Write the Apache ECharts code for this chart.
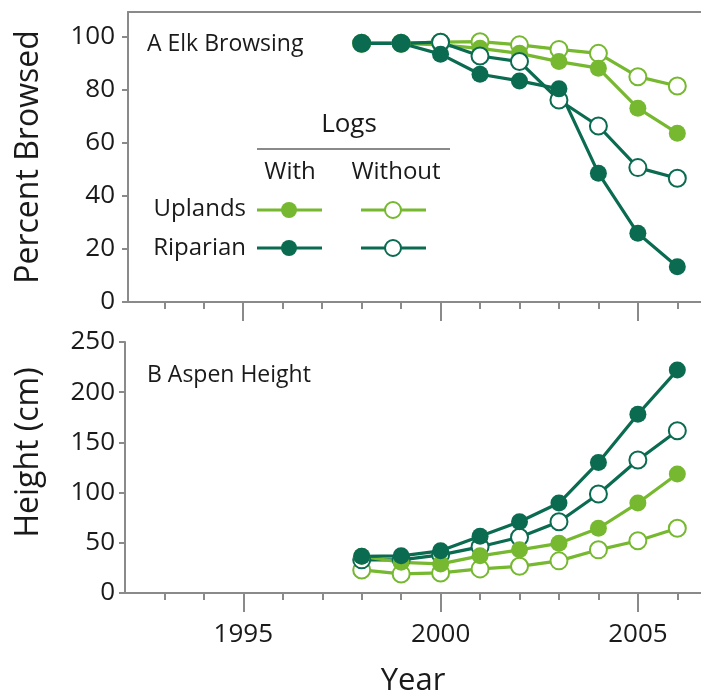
<!DOCTYPE html>
<html><head><meta charset="utf-8">
<script src="https://cdn.jsdelivr.net/npm/echarts@6/dist/echarts.min.js"></script>
<style>html,body{margin:0;padding:0;background:#fff}#c{width:701px;height:698px}</style>
</head><body><div id="c"></div>
<script>
const years = [1998,1999,2000,2001,2002,2003,2004,2005,2006];
const browseUplandsWith     = [97.6,97.6,97,95.7,93.8,90.7,88.2,73.1,63.7];
const browseUplandsWithout  = [97.6,97.6,98,98.2,97,95.3,93.8,85,81.5];
const browseRiparianWithout = [97.6,97.6,98,92.8,90.7,76.2,66.4,50.7,46.7];
const browseRiparianWith    = [97.6,97.6,93.5,85.9,83.4,80.4,48.6,25.9,13.3];
const heightUplandsWith     = [36.5,30.6,29,37,43,49.5,64.5,89.6,118.5];
const heightUplandsWithout  = [23,19,20,24,26.6,32,43,52,64.5];
const heightRiparianWith    = [36.5,37,42,56.5,71,89.6,130,178,222];
const heightRiparianWithout = [33,33,38,46,55.5,71,98.6,132.5,161.6];
const majorYears = [1995,2000,2005];
const minorYears = [1993,1994,1995,1996,1997,1998,1999,2000,2001,2002,2003,2004,2005,2006];
const browseTicks = [0,20,40,60,80,100];
const heightTicks = [0,50,100,150,200,250];

const LIGHT = '#76b82f', DARK = '#0a6b50', GREY = '#8a8a8a', TXT = '#1a1a1a';
const FONT = 'Open Sans';
const pair = arr => years.map((y,i)=>[y, arr[i]]);

function mkSeries(arr, color, open, xi, yi){
  return {
    type:'line', data: pair(arr), xAxisIndex:xi, yAxisIndex:yi,
    symbol:'circle', symbolSize: 17, showSymbol:true, animation:false,
    lineStyle:{color:color, width:3.2},
    itemStyle: open ? {color:'#fff', borderColor:color, borderWidth:2} : {color:color, borderWidth:0},
    emphasis:{disabled:true}
  };
}
function xMinor(grid, min){
  return {type:'value', gridIndex:grid, position:'bottom', min:min, max:2006.6,
    axisLine:{show:true, lineStyle:{color:GREY, width:2}},
    axisTick:{show:true, customValues:minorYears, length:7, lineStyle:{color:GREY, width:2}},
    axisLabel:{show:false}, splitLine:{show:false}};
}
function xMajor(grid, min, labels){
  const a = {type:'value', gridIndex:grid, position:'bottom', min:min, max:2006.6,
    axisLine:{show:false},
    axisTick:{show:true, customValues:majorYears, length:19, lineStyle:{color:GREY, width:2}},
    axisLabel:{show:labels, customValues:majorYears, fontSize:26, fontFamily:FONT, color:TXT, margin:29,
      formatter: v => String(v)},
    splitLine:{show:false}};
  if(labels){ Object.assign(a,{name:'Year', nameLocation:'middle', nameGap:73,
    nameTextStyle:{fontSize:31, fontFamily:FONT, color:TXT}}); }
  return a;
}
function xTop(grid, min){
  return {type:'value', gridIndex:grid, position:'top', min:min, max:2006.6,
    axisLine:{show:true, lineStyle:{color:GREY, width:2}},
    axisTick:{show:false}, axisLabel:{show:false}, splitLine:{show:false}};
}

const option = {
  backgroundColor:'#fff',
  animation:false,
  grid:[{left:128, top:12, right:0, height:290},{left:125, top:342, right:0, height:252}],
  xAxis:[xMinor(0,1992.08), xMajor(0,1992.08,false), xTop(0,1992.08),
         xMinor(1,1992), xMajor(1,1992,true)],
  yAxis:[
    {type:'value', gridIndex:0, min:0, max:109.4,
     axisLine:{show:true, lineStyle:{color:GREY, width:2}},
     axisTick:{show:true, customValues:browseTicks, length:6, lineStyle:{color:GREY, width:2}},
     axisLabel:{customValues:browseTicks, fontSize:26, fontFamily:FONT, color:TXT, margin:13},
     splitLine:{show:false},
     name:'Percent Browsed', nameLocation:'middle', nameGap:83,
     nameTextStyle:{fontSize:32, fontFamily:FONT, color:TXT}},
    {type:'value', gridIndex:1, min:0, max:250,
     axisLine:{show:true, lineStyle:{color:GREY, width:2}},
     axisTick:{show:true, customValues:heightTicks, length:6, lineStyle:{color:GREY, width:2}},
     axisLabel:{customValues:heightTicks, fontSize:26, fontFamily:FONT, color:TXT, margin:10},
     splitLine:{show:false},
     name:'Height (cm)', nameLocation:'middle', nameGap:80,
     nameTextStyle:{fontSize:32, fontFamily:FONT, color:TXT, padding:[0,0,0,30]}}
  ],
  series:[
    mkSeries(browseUplandsWithout, LIGHT, true, 0, 0),
    mkSeries(browseUplandsWith, LIGHT, false, 0, 0),
    mkSeries(browseRiparianWithout, DARK, true, 0, 0),
    mkSeries(browseRiparianWith, DARK, false, 0, 0),
    mkSeries(heightUplandsWithout, LIGHT, true, 3, 1),
    mkSeries(heightRiparianWithout, DARK, true, 3, 1),
    mkSeries(heightUplandsWith, LIGHT, false, 3, 1),
    mkSeries(heightRiparianWith, DARK, false, 3, 1)
  ],
  graphic:[
    {type:'text', left:147, top:33, style:{text:'A Elk Browsing', fontSize:23, fontFamily:FONT, fill:TXT}},
    {type:'text', left:147, top:364, style:{text:'B Aspen Height', fontSize:23, fontFamily:FONT, fill:TXT}},
    {type:'text', x:349, y:125, style:{text:'Logs', fontSize:26, fontFamily:FONT, fill:TXT, align:'center', verticalAlign:'middle'}},
    {type:'line', shape:{x1:257, y1:149, x2:450, y2:149}, style:{stroke:GREY, lineWidth:2}},
    {type:'text', x:290, y:172, style:{text:'With', fontSize:24, fontFamily:FONT, fill:TXT, align:'center', verticalAlign:'middle'}},
    {type:'text', x:396, y:172, style:{text:'Without', fontSize:24, fontFamily:FONT, fill:TXT, align:'center', verticalAlign:'middle'}},
    {type:'text', x:246, y:209, style:{text:'Uplands', fontSize:24, fontFamily:FONT, fill:TXT, align:'right', verticalAlign:'middle'}},
    {type:'text', x:246, y:248, style:{text:'Riparian', fontSize:24, fontFamily:FONT, fill:TXT, align:'right', verticalAlign:'middle'}},
    {type:'line', shape:{x1:257, y1:210, x2:322, y2:210}, style:{stroke:LIGHT, lineWidth:3}},
    {type:'circle', shape:{cx:289, cy:210, r:8}, style:{fill:LIGHT}},
    {type:'line', shape:{x1:361, y1:210, x2:426, y2:210}, style:{stroke:LIGHT, lineWidth:3}},
    {type:'circle', shape:{cx:393, cy:210, r:8}, style:{fill:'#fff', stroke:LIGHT, lineWidth:2}},
    {type:'line', shape:{x1:257, y1:248, x2:322, y2:248}, style:{stroke:DARK, lineWidth:3}},
    {type:'circle', shape:{cx:289, cy:248, r:8}, style:{fill:DARK}},
    {type:'line', shape:{x1:361, y1:248, x2:426, y2:248}, style:{stroke:DARK, lineWidth:3}},
    {type:'circle', shape:{cx:393, cy:248, r:8}, style:{fill:'#fff', stroke:DARK, lineWidth:2}}
  ]
};
const chart = echarts.init(document.getElementById('c'), null, {renderer:'canvas'});
chart.setOption(option);
</script></body></html>
